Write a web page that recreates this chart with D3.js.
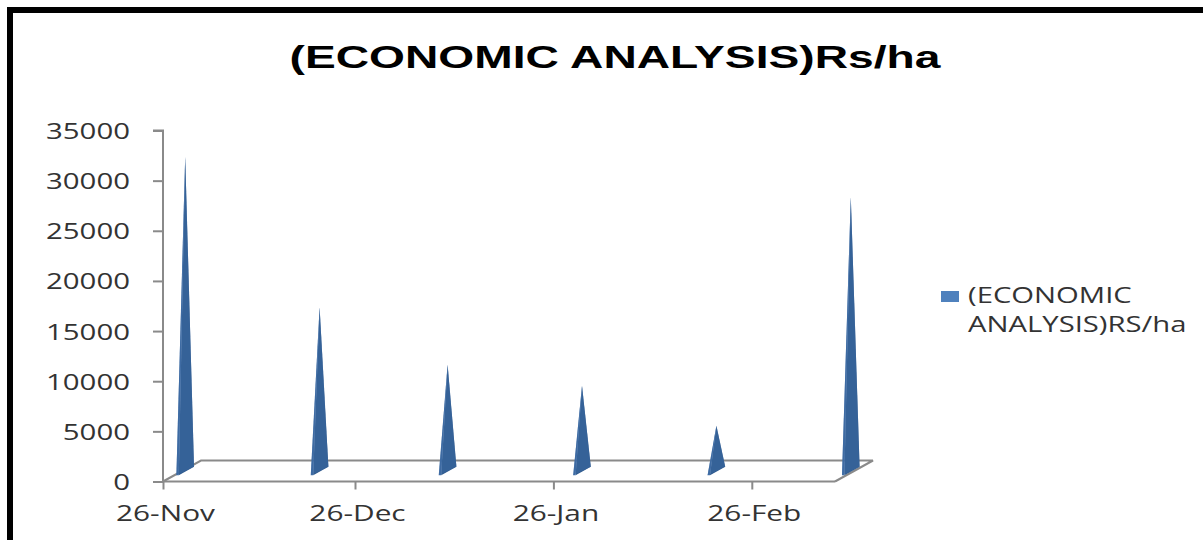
<!DOCTYPE html>
<html>
<head>
<meta charset="utf-8">
<script src="https://cdn.jsdelivr.net/npm/d3@7/dist/d3.min.js"></script>
<style>
  html, body { margin: 0; padding: 0; background: #fff; }
  svg { display: block; }
</style>
</head>
<body>
<svg id="chart" width="1203" height="540"></svg>
<script>
// Sampling dates (every three weeks) and economic return in Rs/ha
const dates = ["2012-11-26", "2012-12-17", "2013-01-06", "2013-01-27", "2013-02-17", "2013-03-10"];
const values = [31300, 16300, 10600, 8500, 4500, 27300];
const xTickDates = ["2012-11-26", "2012-12-26", "2013-01-26", "2013-02-26"];
const yTicks = [0, 5000, 10000, 15000, 20000, 25000, 30000, 35000];
const titleText = "(ECONOMIC ANALYSIS)Rs/ha";
const legendLines = ["(ECONOMIC", "ANALYSIS)RS/ha"];

const parse = d3.utcParse("%Y-%m-%d");
const fmt = d3.utcFormat("%d-%b");
const DAY = 864e5;

const svg = d3.select("#chart");

// frame
svg.append("path")
  .attr("d", "M10,545 L10,10 L1210,10")
  .attr("fill", "none").attr("stroke", "#000").attr("stroke-width", 6);

// plot geometry (oblique 3D floor)
const left = 163, right = 835, y0 = 481.5, yTop = 130.5;
const depth = [38, -21];
const axisColor = "#8a8a8a";

const start = parse(dates[0]);
const end = new Date(+parse(dates[dates.length - 1]) + DAY);
const x = d3.scaleUtc().domain([start, end]).range([left, right]);
const y = d3.scaleLinear().domain([0, 35000]).range([y0, yTop]);

// stretched text helper
function label(g, tx, ty, text, opts) {
  return g.append("text")
    .attr("transform", `translate(${tx},${ty}) scale(${opts.sx},1)`)
    .attr("text-anchor", opts.anchor || "start")
    .attr("font-family", opts.family)
    .attr("font-size", opts.size)
    .attr("font-weight", opts.weight || "normal")
    .attr("fill", opts.fill || "#333")
    .text(text);
}

// title
label(svg, 615, 68, titleText, {
  sx: 1.49, anchor: "middle", family: "'Liberation Sans', Arial, sans-serif",
  size: 31, weight: "bold", fill: "#000"
});

// floor outline
const floor = svg.append("g").attr("fill", "none").attr("stroke", axisColor).attr("stroke-width", 2);
floor.append("path").attr("d",
  `M${left},${y0} L${left + depth[0]},${y0 + depth[1]} L${right + depth[0]},${y0 + depth[1]} L${right},${y0}`);

// value axis
const yAxis = svg.append("g").attr("transform", `translate(${left},0)`).call(
  d3.axisLeft(y).tickValues(yTicks).tickSize(10).tickFormat(d3.format("d"))
);
yAxis.select(".domain").attr("stroke", axisColor).attr("stroke-width", 2)
  .attr("d", `M-10,${yTop}H0V${y0}`);
yAxis.selectAll(".tick line").attr("stroke", axisColor).attr("stroke-width", 2);
yAxis.selectAll(".tick text").remove();
yAxis.selectAll(".tick").each(function (d) {
  label(d3.select(this), -33, 8, fmtNum(d), {
    sx: 1.40, anchor: "end", family: "'Open Sans', sans-serif", size: 21, fill: "#333"
  });
});
function fmtNum(d) { return String(d); }

// date axis
const xAxis = svg.append("g").attr("transform", `translate(0,${y0})`).call(
  d3.axisBottom(x).tickValues(xTickDates.map(parse)).tickSize(8).tickFormat(fmt)
);
xAxis.select(".domain").attr("stroke", axisColor).attr("stroke-width", 2)
  .attr("d", `M${left},0H${right}`);
xAxis.selectAll(".tick line").attr("stroke", axisColor).attr("stroke-width", 2);
xAxis.selectAll(".tick text").remove();
xAxis.selectAll(".tick").each(function (d) {
  label(d3.select(this), 2, 39, fmt(d), {
    sx: 1.42, anchor: "middle", family: "'Open Sans', sans-serif", size: 21, fill: "#333"
  });
});

// pyramids
const k0 = 0.30, k1 = 0.70, halfW = 1.2;
const data = dates.map((d, i) => ({ date: parse(d), value: values[i] }));
const pyr = svg.append("g");
data.forEach(p => {
  const xc = (x(p.date) + x(new Date(+p.date + DAY))) / 2;
  const fl = [xc - halfW + k0 * depth[0], y0 + k0 * depth[1]];
  const fr = [xc + halfW + k0 * depth[0], y0 + k0 * depth[1]];
  const br = [xc + halfW + k1 * depth[0], y0 + k1 * depth[1]];
  const tip = [xc + 0.5 * depth[0], y(p.value) + 0.5 * depth[1]];
  pyr.append("path")
    .attr("d", `M${fr}L${br}L${tip}Z`)
    .attr("fill", "#2f5a8d");
  pyr.append("path")
    .attr("d", `M${fl}L${fr}L${tip}Z`)
    .attr("fill", "#4472a9");
  pyr.append("path")
    .attr("d", `M${fl}L${br}L${tip}Z`)
    .attr("fill", "#3b68a0").attr("opacity", 0.6);
});

// legend
const lg = svg.append("g");
lg.append("rect").attr("x", 941).attr("y", 291).attr("width", 18).attr("height", 11).attr("fill", "#4f81bd");
legendLines.forEach((t, i) => {
  label(lg, 968, 303 + i * 29, t, {
    sx: 1.33, family: "'Open Sans', sans-serif", size: 22, fill: "#333"
  });
});
</script>
</body>
</html>
